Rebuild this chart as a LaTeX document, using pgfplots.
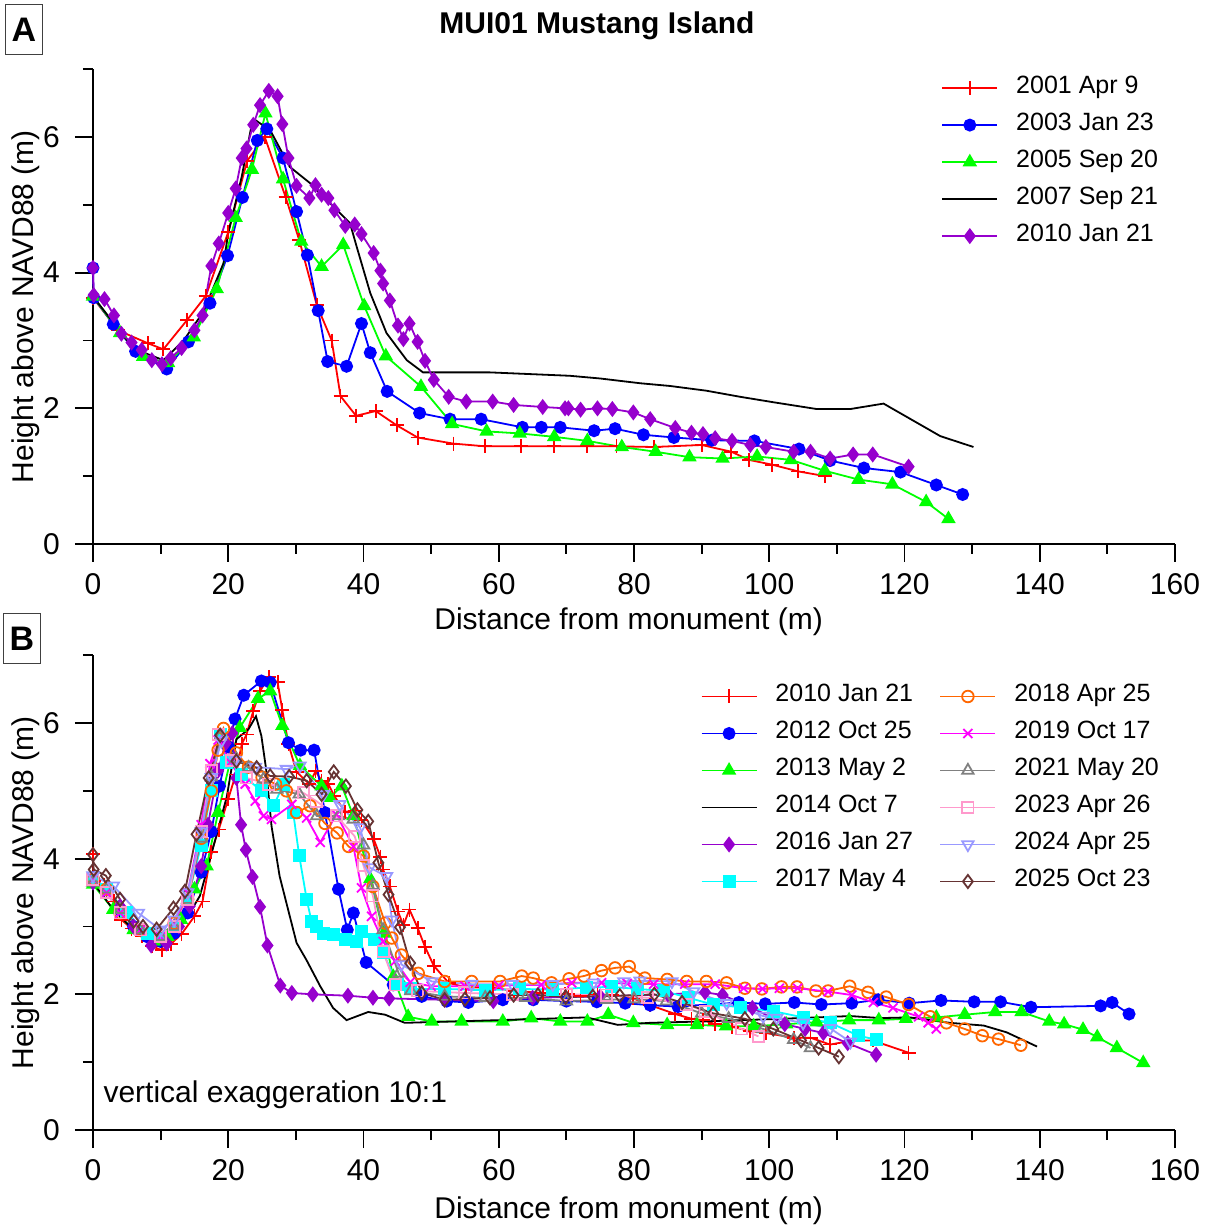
\documentclass[border=0pt]{standalone}
\usepackage{fontspec}
\setmainfont{Liberation Sans}
\usepackage{pgfplots}
\pgfplotsset{compat=1.18}
\usepackage{pgfplotstable}

\definecolor{cRed}{RGB}{255,0,0}
\definecolor{cBlue}{RGB}{0,0,255}
\definecolor{cGreen}{RGB}{0,255,0}
\definecolor{cPurple}{RGB}{150,0,205}
\definecolor{cCyan}{RGB}{0,255,255}
\definecolor{cOrange}{RGB}{255,102,0}
\definecolor{cMagenta}{RGB}{255,0,255}
\definecolor{cGray}{RGB}{128,128,128}
\definecolor{cPink}{RGB}{255,153,204}
\definecolor{cLav}{RGB}{153,153,255}
\definecolor{cBrown}{RGB}{102,51,51}

% ---------------- Panel A data ----------------
\pgfplotstableread{
x y
0 3.63
3.7 3.15
8.1 2.96
10.4 2.87
13.9 3.30
16.7 3.66
20.0 4.60
22.8 5.65
25.4 6.00
28.5 5.11
30.5 4.48
33.1 3.52
35.3 3.00
36.6 2.18
38.9 1.89
41.8 1.96
44.9 1.75
48.0 1.57
53.3 1.48
58.0 1.44
63.3 1.44
68.2 1.44
73.1 1.44
77.4 1.44
82.9 1.43
90.0 1.46
94.4 1.36
97.0 1.24
100.4 1.17
104.3 1.07
108.3 1.00
}\tAa
\pgfplotstableread{
x y
0 4.07
0.1 3.63
3.0 3.24
6.3 2.84
10.9 2.58
14.1 2.98
17.3 3.55
19.9 4.25
22.1 5.11
24.3 5.95
25.7 6.12
28.1 5.69
30.1 4.90
31.7 4.26
33.3 3.44
34.7 2.69
37.5 2.62
39.7 3.25
41.0 2.82
43.5 2.25
48.3 1.93
52.8 1.84
57.4 1.84
63.5 1.72
66.3 1.72
69.1 1.72
74.1 1.67
77.2 1.70
81.4 1.61
85.9 1.57
91.5 1.53
97.8 1.52
104.4 1.40
109.0 1.23
114.0 1.12
119.4 1.06
124.7 0.87
128.6 0.73
}\tAb
\pgfplotstableread{
x y
0 3.65
4.0 3.11
7.4 2.76
11.1 2.67
14.9 3.05
18.3 3.76
21.1 4.81
23.5 5.52
25.5 6.35
28.1 5.38
30.8 4.46
33.8 4.09
37.0 4.41
40.1 3.51
43.3 2.77
48.5 2.32
53.1 1.77
58.2 1.66
63.1 1.63
68.2 1.58
73.1 1.52
78.2 1.43
83.2 1.36
88.2 1.28
93.1 1.26
98.2 1.29
103.2 1.24
108.2 1.08
113.2 0.95
118.2 0.88
123.2 0.62
126.5 0.37
}\tAc
\pgfplotstableread{
x y
0 3.65
3.5 3.20
6.0 2.88
10.4 2.71
13.4 3.00
16.3 3.42
19.3 4.14
20.0 4.58
22.0 5.42
23.5 6.20
24.0 6.25
26.2 6.10
29.1 5.56
32.1 5.32
34.6 5.07
38.0 4.73
39.0 4.38
41.0 3.70
43.4 3.11
46.4 2.71
48.8 2.53
58.7 2.53
70.5 2.48
75.0 2.44
80.9 2.37
85.3 2.33
90.7 2.26
95.7 2.17
100.6 2.09
107.0 1.99
112.0 1.99
116.9 2.07
125.3 1.59
130.2 1.43
}\tAd
\pgfplotstableread{
x y
0 4.07
0.1 3.67
1.7 3.61
3.1 3.37
4.2 3.10
5.7 2.97
7.2 2.86
8.7 2.71
10.2 2.65
11.5 2.74
13.1 2.89
15.0 3.15
16.2 3.37
17.5 4.10
18.6 4.43
20.0 4.88
21.1 5.24
22.0 5.69
22.7 5.83
23.7 6.18
24.7 6.47
26.0 6.68
27.3 6.60
28.0 6.19
28.9 5.69
30.1 5.28
32.0 5.10
32.9 5.29
33.8 5.15
34.8 5.10
35.7 4.92
37.3 4.69
38.7 4.71
39.7 4.57
41.5 4.29
42.5 4.03
42.9 3.84
43.9 3.59
45.1 3.22
45.9 3.02
46.8 3.25
48.0 2.98
49.1 2.70
50.4 2.42
52.6 2.17
55.2 2.10
59.1 2.10
62.2 2.05
66.5 2.02
69.8 2.00
70.3 2.00
72.1 1.98
74.6 2.00
76.8 1.99
79.9 1.94
82.4 1.84
86.1 1.71
88.5 1.64
90.2 1.62
92.0 1.56
94.5 1.52
97.2 1.46
99.5 1.43
103.6 1.36
106.1 1.36
109.0 1.26
112.4 1.32
115.3 1.32
120.6 1.14
}\tAe

% ---------------- Panel B data ----------------
\pgfplotstableread{
x y
0 3.72
2 3.55
4 3.25
6 3.00
8 2.85
10 2.78
12 2.90
14 3.20
16 3.80
17.5 4.40
18.7 5.07
20.0 5.65
21.0 6.06
22.3 6.41
24.9 6.62
26.2 6.60
28.9 5.71
30.7 5.60
32.7 5.60
34.3 4.68
36.3 3.55
37.6 2.95
38.5 3.20
40.4 2.47
44.4 2.14
48.6 1.97
52.3 1.90
55.5 1.88
60.6 1.92
65.1 1.92
70.0 1.90
74.5 1.89
78.7 1.87
82.4 1.84
86.5 1.82
95.5 1.88
99.4 1.86
103.7 1.88
107.7 1.85
112.2 1.87
116.1 1.92
120.7 1.87
125.4 1.91
130.3 1.89
134.2 1.89
138.7 1.81
149.0 1.83
150.7 1.88
153.2 1.71
}\tBb
\pgfplotstableread{
x y
0 3.62
3 3.25
6 2.95
9 2.78
11 2.85
13 3.10
15 3.55
16.8 3.89
18.5 4.68
20.2 5.40
21.7 5.93
24.4 6.36
26.2 6.47
28.0 5.96
30.6 5.37
33.8 5.07
35.0 4.90
36.8 5.07
38.5 4.63
41.0 3.70
43.0 2.90
44.4 2.26
46.6 1.67
50.1 1.60
54.5 1.60
60.6 1.60
64.8 1.65
69.1 1.60
73.1 1.60
76.2 1.70
79.9 1.58
84.9 1.55
89.3 1.55
93.6 1.53
97.7 1.53
102.5 1.56
107.0 1.59
111.8 1.62
116.2 1.62
120.2 1.64
124.7 1.66
128.9 1.70
133.4 1.74
137.3 1.74
141.4 1.60
143.6 1.56
146.4 1.48
148.5 1.37
151.4 1.21
155.3 0.99
}\tBc
\pgfplotstableread{
x y
0 3.65
3 3.25
6 2.95
8 2.90
10 2.85
12 2.95
14 3.15
15.8 3.45
17.3 3.99
19.8 4.92
21.2 5.76
23.0 5.91
24.1 6.10
24.9 5.81
25.6 5.32
26.4 4.48
27.6 3.74
30.1 2.76
31.6 2.50
33.6 2.12
35.5 1.80
37.5 1.62
40.7 1.74
43.2 1.70
46.1 1.58
60.2 1.62
73.0 1.66
77.6 1.55
82.4 1.58
90.0 1.60
102.0 1.64
112.0 1.68
116.4 1.65
120.8 1.66
126.7 1.58
131.7 1.54
135.1 1.44
139.6 1.23
}\tBd
\pgfplotstableread{
x y
0 3.65
2 3.55
4 3.30
6 3.00
8.6 2.72
10.9 2.75
12.7 3.00
14.3 3.30
16.0 3.89
17.0 4.50
18.5 5.30
19.6 5.70
20.6 5.85
21.2 5.19
21.9 4.50
22.6 4.13
23.6 3.73
24.7 3.29
25.8 2.72
27.7 2.13
29.4 2.02
32.5 2.00
37.7 1.98
41.4 1.95
43.8 1.94
52.0 1.92
59.2 1.90
65.0 1.95
75.0 1.97
85.0 2.00
90.5 2.03
93.1 1.99
97.5 1.80
102.3 1.56
105.3 1.49
108.0 1.43
111.6 1.28
115.8 1.11
}\tBe
\pgfplotstableread{
x y
0 3.70
2 3.55
5 3.20
8 2.90
10 2.85
12 3.00
14 3.40
16 4.20
17.5 5.00
18.8 5.83
19.8 5.42
22.0 5.24
24.9 5.00
26.7 4.78
28.2 5.10
29.6 4.68
30.5 4.04
31.6 3.40
32.3 3.08
33.0 3.00
34.1 2.90
35.6 2.88
37.3 2.81
39.0 2.78
39.7 2.93
41.7 2.81
42.9 2.61
45.1 2.14
47.0 2.08
52.0 2.08
58.0 2.06
63.0 2.08
68.0 2.07
73.0 2.10
76.7 2.11
80.5 2.08
84.4 2.05
88.0 1.95
91.7 1.85
95.8 1.81
100.7 1.75
105.0 1.66
109.0 1.58
113.2 1.39
115.9 1.33
}\tBf
\pgfplotstableread{
x y
0 3.70
2 3.55
4 3.20
7 2.95
10 2.85
12 3.05
14 3.40
16 4.30
17.5 5.00
18.5 5.60
19.3 5.92
21.2 5.56
23.0 5.35
25.0 5.20
27.0 5.10
28.6 5.00
30.1 4.68
32.1 4.78
34.3 4.52
36.1 4.38
37.8 4.18
40.0 4.04
41.4 3.59
43.2 3.05
44.2 2.83
45.6 2.58
48.1 2.31
52.0 2.19
56.0 2.19
60.2 2.19
63.4 2.27
65.1 2.24
67.8 2.17
70.4 2.23
72.6 2.27
75.2 2.35
77.2 2.39
79.3 2.41
81.6 2.24
84.9 2.22
87.8 2.19
90.7 2.19
93.7 2.17
96.4 2.09
98.9 2.08
101.8 2.11
104.1 2.11
106.9 2.05
108.7 2.05
111.9 2.12
114.6 2.03
117.3 1.96
120.6 1.85
123.8 1.67
126.2 1.58
128.9 1.49
131.5 1.39
133.9 1.34
137.2 1.25
}\tBg
\pgfplotstableread{
x y
0 3.70
2 3.50
4 3.20
7 2.95
10 2.85
12 3.05
14 3.50
16 4.50
17.3 5.40
18.5 5.75
20.3 5.42
22.5 5.10
24.0 4.85
25.2 4.63
26.4 4.58
29.4 4.80
31.6 4.60
33.6 4.24
36.0 4.65
38.5 4.18
39.7 3.57
41.2 3.15
42.9 2.78
44.7 2.49
46.9 2.18
50.0 2.12
55.0 2.12
60.0 2.13
66.3 2.14
70.8 2.17
75.2 2.17
79.0 2.16
82.9 2.15
87.5 2.15
92.0 2.15
96.2 2.09
99.0 2.08
101.5 2.09
104.2 2.09
108.7 2.04
112.2 1.99
115.4 1.88
118.3 1.80
122.1 1.67
123.5 1.58
124.7 1.49
}\tBh
\pgfplotstableread{
x y
0 3.65
2 3.55
4 3.25
7 2.95
10 2.85
12 3.00
14 3.40
16 4.30
17.5 5.20
18.8 5.80
21.2 5.47
23.0 5.34
25.2 5.17
27.2 5.02
30.5 4.95
33.1 4.63
36.3 4.63
38.5 4.58
40.0 4.20
41.4 3.60
42.9 2.95
45.2 2.31
47.0 2.05
52.0 1.97
58.0 1.95
64.0 1.95
70.0 1.90
76.0 1.92
80.0 1.93
84.8 1.90
90.0 1.72
94.0 1.64
99.1 1.49
103.6 1.33
106.1 1.21
}\tBi
\pgfplotstableread{
x y
0 3.70
2 3.50
4 3.20
7 2.95
10 2.85
12 3.00
14 3.40
16 4.40
17.5 5.30
18.5 5.83
20.5 5.45
22.7 5.19
26.0 5.10
31.1 4.97
33.0 4.85
36.0 4.63
38.7 4.33
40.0 3.90
41.4 3.45
42.9 2.63
44.7 2.14
48.0 2.05
55.0 2.02
62.0 2.00
70.0 2.00
75.9 1.99
82.0 1.95
87.8 1.85
90.5 1.75
95.9 1.49
98.4 1.38
}\tBj
\pgfplotstableread{
x y
0 3.75
3 3.60
6.7 3.20
10 2.95
12 3.10
14 3.50
16 4.40
17.5 5.20
19.0 5.74
21.0 5.45
24.0 5.35
28.6 5.32
30.6 5.37
34.1 4.95
36.5 4.80
39.5 4.46
40.9 3.87
43.4 3.74
44.2 3.10
45.6 2.44
50.1 2.19
56.0 2.15
62.0 2.15
68.0 2.15
74.0 2.17
78.5 2.19
80.9 2.20
85.6 2.19
88.8 2.04
93.7 1.87
99.1 1.68
101.1 1.65
105.0 1.58
109.0 1.50
112.0 1.30
}\tBk
\pgfplotstableread{
x y
0 4.06
0.1 3.84
1.9 3.75
4.0 3.40
6.0 3.08
7.4 3.00
9.4 2.96
11.9 3.27
13.6 3.52
15.3 4.36
17.1 5.19
18.8 5.82
21.2 5.44
24.2 5.34
26.2 5.22
29.0 5.21
31.6 5.15
33.8 4.95
35.6 5.28
37.4 5.07
39.1 4.72
40.7 4.55
42.2 3.94
43.7 3.47
45.4 2.99
46.9 2.46
48.6 2.02
52.0 1.92
55.0 1.93
58.7 1.95
62.2 1.99
65.8 1.99
69.9 1.96
73.9 1.97
77.9 1.98
83.0 2.00
87.1 1.88
91.7 1.72
96.4 1.64
100.6 1.49
104.7 1.32
107.3 1.21
110.3 1.08
}\tBl

\pgfplotsset{
  prof/.style={
    scale only axis, width=541pt, height=237.4pt,
    xmin=0, xmax=160, ymin=0, ymax=7,
    clip=false,
    axis lines*=left,
    axis line style={line width=0.9pt},
    xtick={0,20,...,160}, ytick={0,2,4,6},
    minor xtick={10,30,...,150}, minor ytick={1,3,5,7},
    tick align=outside,
    major tick length=9pt, minor tick length=5pt,
    every tick/.style={black, line width=0.9pt},
    /pgf/number format/assume math mode=true,
    tick label style={font=\fontsize{15}{18}\selectfont},
    x tick label style={yshift=-2pt},
    y tick label style={xshift=-4pt},
    label style={font=\fontsize{15}{18}\selectfont},
    xlabel={Distance from monument (m)},
    ylabel={Height above NAVD88 (m)},
    y label style={at={(axis description cs:-0.062,0.5)}, anchor=center},
    every axis plot/.append style={line width=0.9pt},
    every mark/.append style={solid, line width=0.8pt},
    legend image code/.code={\draw[mark repeat=2,mark phase=2,#1] plot coordinates {(0pt,0pt) (13.75pt,0pt) (27.5pt,0pt)};},
    legend cell align=left,
  },
  sRed/.style={color=cRed, mark=+, mark size=3.5pt},
  sBlue/.style={color=cBlue, mark=*, mark size=2.8pt},
  sGreen/.style={color=cGreen, mark=triangle*, mark size=3.3pt},
  sBlack/.style={color=black, mark=none},
  sPurple/.style={color=cPurple, mark=diamond*, mark size=3.3pt},
  sCyan/.style={color=cCyan, mark=square*, mark size=2.8pt},
  sOrange/.style={color=cOrange, mark=o, mark size=2.9pt},
  sMagenta/.style={color=cMagenta, mark=x, mark size=3.2pt},
  sGray/.style={color=cGray, mark=triangle, mark size=3.3pt},
  sPink/.style={color=cPink, mark=square, mark size=2.8pt},
  sLav/.style={color=cLav, mark=triangle, mark size=3.3pt, mark options={rotate=180}},
  sBrown/.style={color=cBrown, mark=diamond, mark size=3.3pt},
}

\begin{document}
\begin{tikzpicture}
\useasboundingbox (-46.5pt,-342.5pt) rectangle (557pt,272pt);

% ---------------- Panel A ----------------
\begin{axis}[prof, at={(0pt,0pt)}, anchor=south west,
  x label style={at={(axis description cs:0.495,0)}, yshift=-39pt, anchor=center},
  legend style={at={(axis cs:125.4,7.0)}, anchor=north west, draw=none, fill=none,
    inner sep=0pt, row sep=0pt,
    font=\fontsize{12.5}{15}\selectfont,
    nodes={inner sep=0pt, text height=12pt, text depth=6.5pt},
    /tikz/every odd column/.append style={column sep=9pt}},
]
\addplot[sRed] table {\tAa}; \addlegendentry{2001 Apr 9}
\addplot[sBlue] table {\tAb}; \addlegendentry{2003 Jan 23}
\addplot[sGreen] table {\tAc}; \addlegendentry{2005 Sep 20}
\addplot[sBlack] table {\tAd}; \addlegendentry{2007 Sep 21}
\addplot[sPurple] table {\tAe}; \addlegendentry{2010 Jan 21}
\node[font=\bfseries\fontsize{15}{18}\selectfont] at (rel axis cs:0.4658,1.092) {MUI01 Mustang Island};
\node[draw=black!75, line width=0.5pt, minimum width=18.5pt, minimum height=25pt, inner sep=0pt,
  font=\bfseries\fontsize{17}{20}\selectfont] at (rel axis cs:-0.0638,1.0826) {A};
\end{axis}

% ---------------- Panel B ----------------
\begin{axis}[prof, at={(0pt,-293pt)}, anchor=south west,
  x label style={at={(axis description cs:0.495,0)}, yshift=-40.5pt, anchor=center},
  legend columns=2,
  legend style={at={(axis cs:89.8,6.67)}, anchor=north west, draw=none, fill=none,
    inner sep=0pt, row sep=0pt,
    font=\fontsize{12.5}{15}\selectfont,
    nodes={inner sep=0pt, text height=12pt, text depth=6.5pt},
    /tikz/every odd column/.append style={column sep=9pt},
    /tikz/every even column/.append style={column sep=13.2pt}},
]
\addplot[sRed, forget plot] table {\tAe};
\addplot[sBlue, forget plot] table {\tBb};
\addplot[sGreen, forget plot] table {\tBc};
\addplot[sBlack, forget plot] table {\tBd};
\addplot[sPurple, forget plot] table {\tBe};
\addplot[sCyan, forget plot] table {\tBf};
\addplot[sOrange, forget plot] table {\tBg};
\addplot[sMagenta, forget plot] table {\tBh};
\addplot[sGray, forget plot] table {\tBi};
\addplot[sPink, forget plot] table {\tBj};
\addplot[sLav, forget plot] table {\tBk};
\addplot[sBrown, forget plot] table {\tBl};

\addlegendimage{sRed} \addlegendentry{2010 Jan 21}
\addlegendimage{sOrange} \addlegendentry{2018 Apr 25}
\addlegendimage{sBlue} \addlegendentry{2012 Oct 25}
\addlegendimage{sMagenta} \addlegendentry{2019 Oct 17}
\addlegendimage{sGreen} \addlegendentry{2013 May 2}
\addlegendimage{sGray} \addlegendentry{2021 May 20}
\addlegendimage{sBlack} \addlegendentry{2014 Oct 7}
\addlegendimage{sPink} \addlegendentry{2023 Apr 26}
\addlegendimage{sPurple} \addlegendentry{2016 Jan 27}
\addlegendimage{sLav} \addlegendentry{2024 Apr 25}
\addlegendimage{sCyan} \addlegendentry{2017 May 4}
\addlegendimage{sBrown} \addlegendentry{2025 Oct 23}

\node[anchor=base west, inner sep=0pt, font=\fontsize{15}{18}\selectfont] at (axis cs:1.5,0.41) {vertical exaggeration 10:1};
\node[draw=black!75, line width=0.5pt, minimum width=18.5pt, minimum height=25pt, inner sep=0pt,
  font=\bfseries\fontsize{17}{20}\selectfont] at (rel axis cs:-0.0656,1.035) {B};
\end{axis}
\end{tikzpicture}
\end{document}
